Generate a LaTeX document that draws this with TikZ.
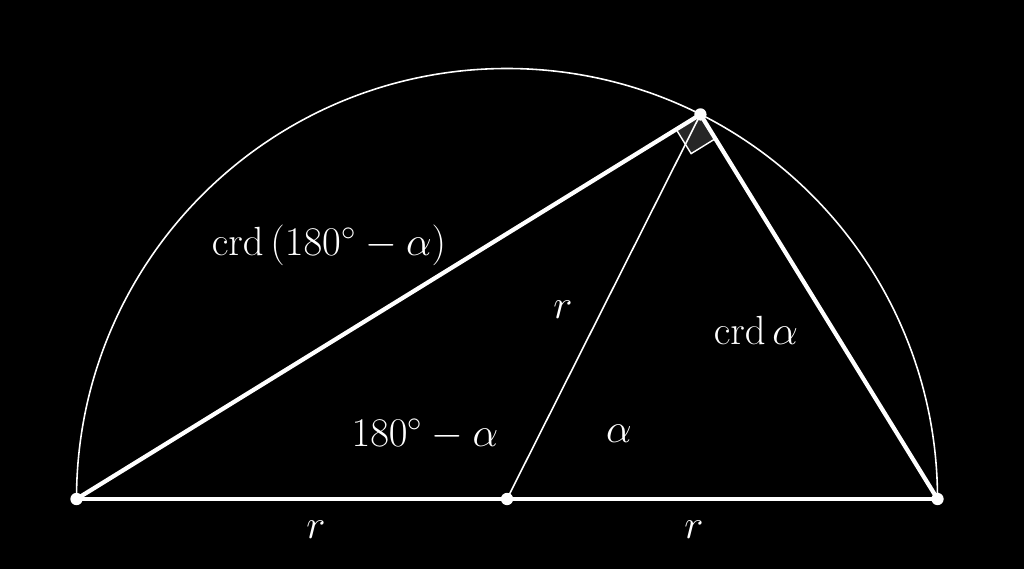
\documentclass[tikz,border=0pt]{standalone}
\usepackage{fix-cm}
\usetikzlibrary{calc}
\tikzset{
  thick line/.style={draw=white, line width=2.4pt},
  thin line/.style={draw=white, line width=0.9pt},
  dot/.style={circle, fill=white, inner sep=0pt, minimum size=7pt},
  lab/.style={text=white, font=\fontsize{23.2}{27}\selectfont, inner sep=0pt},
}
\begin{document}
\begin{tikzpicture}[x=0.02cm, y=0.02cm]
\fill[black] (0,0) rectangle (1024,569);
\useasboundingbox (0,0) rectangle (1024,569);
\coordinate (C) at (507,70);
\coordinate (L) at ($(C)+(180:430.5)$);
\coordinate (R) at ($(C)+(0:430.5)$);
\coordinate (T) at ($(C)+(63.3:430.5)$);
% semicircle
\draw[thin line] (R) arc[start angle=0, end angle=180, radius=430.5];
% right angle mark
\coordinate (A) at ($(T)!0.57cm!(L)$);
\coordinate (B) at ($(T)!0.57cm!(R)$);
\filldraw[fill=black!85, draw=white, line width=0.8pt] (T) -- (A) -- ($(A)+(B)-(T)$) -- (B) -- cycle;
% chords
\draw[thick line] (L) -- (T);
\draw[thick line] (T) -- (R);
\draw[white, line width=1.9pt] (L) -- (R);
\draw[thin line] (C) -- (T);
% dots
\node[dot] (dL) at (L) {};
\node[dot] (dC) at (C) {};
\node[dot] (dR) at (R) {};
\node[dot] (dT) at (T) {};
% labels
\node[lab] (l1) at (329,324) {$\mathrm{crd}\,(180^\circ-\alpha)$};
\node[lab] (l2) at (563,259) {$r$};
\node[lab] (l3) at (756,239) {$\mathrm{crd}\,\alpha$};
\node[lab] (l4) at (425,135) {$180^\circ-\alpha$};
\node[lab] (l5) at (619,135) {$\alpha$};
\node[lab] (l6) at (316,39) {$r$};
\node[lab] (l7) at (694,39) {$r$};
\end{tikzpicture}
\end{document}
